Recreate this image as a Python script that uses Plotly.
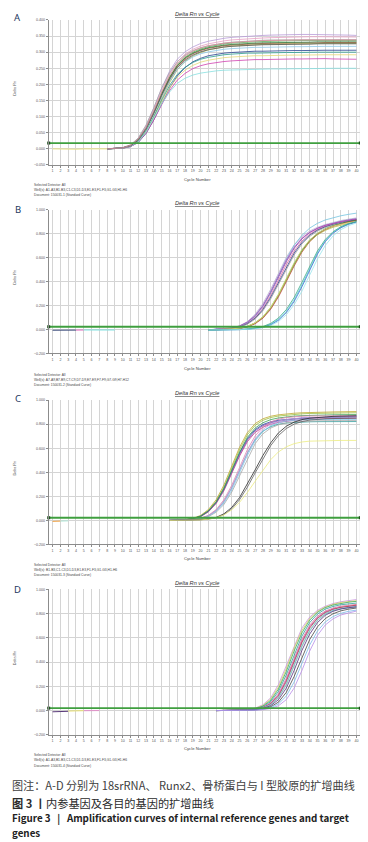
import plotly.graph_objects as go

W, H = 368, 842

# ---------------- data ----------------
CYCLES = list(range(1, 41))
CYCLE_TICKS = [str(c) for c in CYCLES]
A_TICKS = [-0.05, 0.0, 0.05, 0.10, 0.15, 0.20, 0.25, 0.30, 0.35, 0.40]
BCD_TICKS = [-0.2, 0.0, 0.2, 0.4, 0.6, 0.8, 1.0]

A_THRESHOLD = 0.018
B_THRESHOLD = 0.022
C_THRESHOLD = 0.022
D_THRESHOLD = 0.020

# Panel A (18srRNA), curves start at cycle 8
A_START = 8
A_CURVES = [
    [0.000,0.001,0.004,0.012,0.033,0.072,0.127,0.188,0.240,0.278,0.301,0.316,0.327,0.334,0.339,0.343,0.346,0.348,0.350,0.351,0.352,0.353,0.354,0.354,0.355,0.355,0.355,0.355,0.355,0.354,0.354,0.353,0.352],
    [0.000,0.001,0.003,0.011,0.031,0.068,0.121,0.180,0.232,0.270,0.294,0.309,0.319,0.326,0.331,0.335,0.338,0.340,0.342,0.343,0.344,0.345,0.346,0.346,0.347,0.347,0.348,0.348,0.348,0.348,0.348,0.347,0.347],
    [0.000,0.001,0.003,0.010,0.029,0.064,0.114,0.172,0.222,0.260,0.284,0.300,0.310,0.317,0.322,0.326,0.328,0.330,0.331,0.332,0.333,0.334,0.334,0.335,0.335,0.336,0.336,0.336,0.336,0.336,0.336,0.336,0.336],
    [0.000,0.001,0.004,0.012,0.034,0.074,0.128,0.188,0.236,0.270,0.291,0.305,0.314,0.320,0.325,0.328,0.331,0.333,0.335,0.336,0.337,0.338,0.338,0.339,0.339,0.340,0.340,0.340,0.340,0.340,0.340,0.339,0.339],
    [0.000,0.001,0.003,0.010,0.028,0.063,0.112,0.168,0.218,0.256,0.279,0.295,0.305,0.312,0.317,0.320,0.322,0.324,0.325,0.326,0.327,0.327,0.328,0.328,0.329,0.329,0.329,0.329,0.330,0.330,0.330,0.330,0.330],
    [0.000,0.000,0.002,0.008,0.023,0.054,0.100,0.155,0.205,0.245,0.271,0.288,0.299,0.307,0.312,0.316,0.319,0.321,0.322,0.323,0.324,0.325,0.325,0.326,0.326,0.326,0.327,0.327,0.327,0.327,0.327,0.327,0.327],
    [0.000,0.001,0.003,0.010,0.029,0.064,0.114,0.170,0.220,0.258,0.282,0.297,0.307,0.314,0.319,0.322,0.324,0.326,0.327,0.328,0.329,0.329,0.330,0.330,0.331,0.331,0.331,0.332,0.332,0.332,0.332,0.332,0.332],
    [0.000,0.001,0.003,0.009,0.026,0.060,0.108,0.162,0.210,0.247,0.270,0.285,0.295,0.301,0.306,0.309,0.311,0.313,0.314,0.315,0.315,0.316,0.316,0.317,0.317,0.317,0.318,0.318,0.318,0.318,0.318,0.318,0.318],
    [0.000,0.000,0.002,0.007,0.020,0.048,0.090,0.140,0.188,0.226,0.252,0.270,0.281,0.289,0.294,0.297,0.299,0.301,0.302,0.303,0.303,0.304,0.304,0.305,0.305,0.305,0.306,0.306,0.306,0.306,0.306,0.306,0.306],
    [0.000,0.001,0.002,0.008,0.024,0.055,0.099,0.150,0.196,0.231,0.253,0.268,0.278,0.284,0.289,0.292,0.294,0.296,0.297,0.297,0.298,0.298,0.299,0.299,0.299,0.300,0.300,0.300,0.300,0.300,0.300,0.300,0.300],
    [0.000,0.000,0.002,0.008,0.022,0.052,0.095,0.144,0.188,0.222,0.244,0.259,0.269,0.275,0.280,0.283,0.285,0.287,0.288,0.289,0.289,0.290,0.290,0.291,0.291,0.291,0.292,0.292,0.292,0.292,0.292,0.292,0.292],
    [0.000,0.000,0.002,0.007,0.021,0.049,0.090,0.137,0.180,0.213,0.234,0.249,0.258,0.264,0.268,0.271,0.273,0.275,0.276,0.277,0.277,0.278,0.278,0.279,0.279,0.279,0.280,0.280,0.280,0.279,0.279,0.279,0.278],
    [0.000,0.000,0.002,0.008,0.022,0.052,0.095,0.140,0.176,0.203,0.219,0.229,0.235,0.239,0.242,0.244,0.245,0.246,0.247,0.247,0.248,0.248,0.248,0.249,0.249,0.249,0.249,0.250,0.250,0.250,0.250,0.250,0.250],
    [0.000,0.001,0.003,0.009,0.027,0.061,0.110,0.165,0.214,0.252,0.275,0.291,0.301,0.308,0.313,0.316,0.318,0.320,0.321,0.322,0.323,0.323,0.324,0.324,0.325,0.325,0.325,0.326,0.326,0.326,0.326,0.326,0.326],
    [0.000,0.001,0.003,0.011,0.030,0.066,0.118,0.176,0.227,0.264,0.288,0.303,0.313,0.320,0.325,0.328,0.330,0.332,0.334,0.335,0.336,0.336,0.337,0.337,0.337,0.338,0.338,0.338,0.338,0.338,0.338,0.338,0.338],
]
A_BASE_STARTS = [1]
A_BASE = [[0.000, -0.001, -0.001, -0.001, 0.000, 0.000, 0.000, 0.000]]

# Panel B (Runx2), curves start at cycle 21
B_START = 21
B_CURVES = [
    [-0.003,0.000,0.004,0.012,0.030,0.065,0.125,0.215,0.335,0.470,0.600,0.705,0.775,0.820,0.852,0.875,0.893,0.908,0.920,0.930],
    [-0.004,-0.001,0.003,0.010,0.026,0.057,0.110,0.192,0.305,0.435,0.565,0.675,0.755,0.808,0.843,0.868,0.886,0.901,0.913,0.923],
    [-0.004,-0.002,0.002,0.009,0.023,0.051,0.100,0.176,0.284,0.410,0.540,0.652,0.737,0.795,0.834,0.861,0.880,0.895,0.907,0.917],
    [-0.004,-0.002,0.002,0.008,0.021,0.047,0.093,0.165,0.268,0.390,0.520,0.635,0.724,0.786,0.828,0.856,0.876,0.892,0.905,0.915],
    [-0.004,-0.001,0.003,0.010,0.026,0.058,0.112,0.196,0.312,0.448,0.585,0.700,0.785,0.845,0.885,0.913,0.933,0.948,0.960,0.970],
    [-0.004,-0.002,0.001,0.007,0.019,0.043,0.086,0.155,0.255,0.375,0.505,0.620,0.712,0.776,0.820,0.850,0.872,0.889,0.902,0.912],
    [-0.004,-0.001,0.003,0.011,0.028,0.060,0.116,0.200,0.316,0.448,0.577,0.684,0.760,0.810,0.844,0.868,0.885,0.899,0.910,0.920],
    [-0.005,-0.004,-0.002,0.002,0.009,0.023,0.051,0.099,0.176,0.282,0.409,0.539,0.653,0.739,0.797,0.836,0.863,0.882,0.898,0.911],
    [-0.005,-0.004,-0.002,0.002,0.010,0.025,0.055,0.105,0.184,0.292,0.420,0.550,0.662,0.745,0.801,0.839,0.865,0.884,0.899,0.910],
    [-0.005,-0.004,-0.002,0.001,0.008,0.021,0.047,0.093,0.168,0.272,0.398,0.528,0.644,0.732,0.792,0.832,0.860,0.880,0.895,0.906],
    [-0.004,-0.003,-0.001,0.003,0.010,0.024,0.053,0.101,0.178,0.284,0.410,0.538,0.650,0.734,0.790,0.826,0.852,0.871,0.885,0.896],
    [-0.003,-0.002,0.000,0.004,0.011,0.026,0.056,0.106,0.186,0.295,0.425,0.556,0.667,0.748,0.802,0.838,0.862,0.879,0.891,0.900],
    [-0.006,-0.006,-0.005,-0.004,-0.002,0.002,0.008,0.020,0.043,0.085,0.150,0.245,0.370,0.510,0.640,0.740,0.808,0.852,0.880,0.898],
    [-0.006,-0.006,-0.005,-0.004,-0.002,0.001,0.006,0.017,0.038,0.077,0.140,0.232,0.355,0.495,0.628,0.732,0.802,0.848,0.877,0.895],
    [-0.006,-0.005,-0.005,-0.003,-0.001,0.003,0.010,0.024,0.050,0.095,0.165,0.265,0.392,0.530,0.655,0.750,0.815,0.857,0.883,0.900],
    [-0.006,-0.006,-0.006,-0.005,-0.003,0.000,0.005,0.014,0.032,0.066,0.122,0.205,0.318,0.452,0.588,0.700,0.780,0.832,0.866,0.888],
]
B_BASE_STARTS = [1, 4, 5]
B_BASE = [
    [-0.007, -0.006, -0.006, -0.006],
    [-0.006, -0.005],
    [-0.005, -0.005, -0.006, -0.005, -0.005],
]

# Panel C (osteopontin), curves start at cycle 16
C_START = 16
C_CURVES = [
    [0.000,0.002,0.006,0.017,0.041,0.090,0.172,0.295,0.450,0.608,0.730,0.805,0.845,0.866,0.878,0.886,0.891,0.895,0.898,0.900,0.901,0.902,0.903,0.904,0.905],
    [0.000,0.002,0.005,0.015,0.037,0.082,0.160,0.278,0.430,0.588,0.712,0.790,0.832,0.855,0.868,0.876,0.882,0.886,0.889,0.891,0.892,0.893,0.894,0.895,0.895],
    [0.000,0.001,0.005,0.014,0.035,0.078,0.152,0.265,0.410,0.560,0.680,0.755,0.797,0.820,0.833,0.841,0.847,0.851,0.854,0.856,0.857,0.858,0.859,0.860,0.860],
    [0.000,0.001,0.004,0.012,0.031,0.071,0.141,0.248,0.388,0.535,0.655,0.732,0.775,0.800,0.815,0.825,0.832,0.837,0.841,0.844,0.846,0.847,0.848,0.849,0.850],
    [0.000,0.001,0.004,0.013,0.033,0.074,0.146,0.256,0.398,0.548,0.668,0.745,0.788,0.812,0.826,0.836,0.843,0.848,0.852,0.855,0.858,0.860,0.862,0.864,0.865],
    [0.000,0.001,0.005,0.014,0.035,0.078,0.152,0.265,0.412,0.566,0.690,0.768,0.812,0.838,0.852,0.861,0.867,0.871,0.874,0.876,0.877,0.878,0.879,0.880,0.880],
    [0.000,0.000,0.002,0.006,0.016,0.038,0.082,0.158,0.272,0.415,0.560,0.672,0.742,0.780,0.800,0.810,0.815,0.818,0.820,0.821,0.822,0.822,0.822,0.822,0.822],
    [0.000,0.000,0.002,0.007,0.018,0.042,0.090,0.172,0.292,0.440,0.588,0.702,0.775,0.818,0.842,0.855,0.862,0.866,0.868,0.869,0.870,0.870,0.870,0.870,0.870],
    [0.000,0.000,0.001,0.005,0.013,0.031,0.068,0.133,0.235,0.370,0.515,0.638,0.720,0.768,0.795,0.810,0.818,0.823,0.826,0.828,0.829,0.830,0.830,0.830,0.830],
    [0.000,0.000,0.002,0.006,0.015,0.035,0.075,0.145,0.252,0.392,0.540,0.660,0.740,0.786,0.812,0.826,0.833,0.837,0.839,0.840,0.840,0.840,0.840,0.840,0.840],
    [0.000,0.000,0.002,0.006,0.016,0.038,0.082,0.158,0.272,0.415,0.562,0.680,0.756,0.800,0.825,0.839,0.847,0.852,0.855,0.857,0.858,0.859,0.860,0.860,0.860],
    [0.000,0.000,0.000,0.002,0.006,0.014,0.025,0.055,0.108,0.190,0.300,0.420,0.540,0.645,0.728,0.783,0.817,0.838,0.850,0.857,0.862,0.865,0.867,0.869,0.870],
    [0.000,0.000,0.000,0.001,0.005,0.011,0.022,0.048,0.096,0.172,0.276,0.395,0.515,0.622,0.706,0.764,0.800,0.822,0.834,0.841,0.845,0.847,0.849,0.850,0.850],
    [0.000,0.000,0.000,0.001,0.004,0.010,0.022,0.046,0.088,0.150,0.232,0.325,0.420,0.505,0.570,0.612,0.638,0.652,0.659,0.662,0.664,0.665,0.665,0.665,0.665],
]
C_BASE_STARTS = [1, 2]
C_BASE = [
    [-0.008, -0.006],
    [-0.006, -0.004],
]

# Panel D (type I collagen), curves start at cycle 22
D_START = 22
D_CURVES = [
    [0.000,0.000,0.001,0.003,0.008,0.020,0.048,0.105,0.215,0.370,0.540,0.680,0.770,0.826,0.860,0.882,0.897,0.907,0.915],
    [0.000,0.000,0.001,0.003,0.007,0.017,0.042,0.094,0.195,0.345,0.515,0.660,0.758,0.818,0.853,0.876,0.891,0.899,0.905],
    [0.000,0.000,0.001,0.002,0.006,0.015,0.037,0.084,0.178,0.322,0.490,0.640,0.745,0.810,0.848,0.870,0.884,0.893,0.900],
    [0.000,0.000,0.000,0.002,0.005,0.013,0.032,0.073,0.158,0.294,0.460,0.613,0.725,0.795,0.836,0.858,0.872,0.880,0.886],
    [0.000,0.000,0.000,0.002,0.004,0.011,0.027,0.063,0.138,0.266,0.430,0.587,0.703,0.778,0.820,0.845,0.860,0.869,0.875],
    [0.000,0.000,0.000,0.001,0.004,0.010,0.025,0.058,0.128,0.250,0.412,0.570,0.690,0.766,0.812,0.838,0.852,0.860,0.865],
    [0.000,0.000,0.000,0.001,0.004,0.009,0.023,0.054,0.120,0.238,0.398,0.558,0.680,0.760,0.806,0.834,0.850,0.861,0.869],
    [0.000,0.000,0.000,0.001,0.003,0.008,0.020,0.047,0.105,0.210,0.362,0.525,0.655,0.742,0.795,0.825,0.840,0.848,0.853],
    [0.000,0.000,0.000,0.001,0.003,0.008,0.021,0.050,0.110,0.220,0.372,0.535,0.662,0.748,0.798,0.826,0.842,0.852,0.858],
    [0.000,0.000,0.000,0.001,0.003,0.007,0.017,0.040,0.090,0.185,0.330,0.495,0.630,0.725,0.785,0.818,0.837,0.848,0.855],
    [0.000,0.000,0.000,0.001,0.002,0.005,0.013,0.031,0.070,0.150,0.280,0.440,0.585,0.690,0.758,0.798,0.822,0.836,0.845],
    [0.000,0.000,0.000,0.000,0.002,0.004,0.010,0.024,0.055,0.120,0.235,0.390,0.540,0.655,0.730,0.775,0.802,0.818,0.828],
    [0.000,0.000,0.000,0.000,0.001,0.003,0.007,0.017,0.040,0.090,0.185,0.330,0.490,0.620,0.705,0.756,0.788,0.807,0.820],
]
D_BASE_STARTS = [1, 3, 5]
D_BASE = [
    [-0.010, -0.008, -0.006],
    [-0.004, -0.002, -0.001],
    [-0.001, 0.000, 0.000],
]

FOOTERS = [
    ["Selected Detector: All", "Well(s): A1-A3,B1-B3,C1-C3,D1-D3,E1-E3,F1-F3,G1-G3,H1-H6", "Document: 150031-1 (Standard Curve)"],
    ["Selected Detector: All", "Well(s): A7-A9,B7-B9,C7-C9,D7-D9,E7-E9,F7-F9,G7-G9,H7-H12", "Document: 150031-2 (Standard Curve)"],
    ["Selected Detector: All", "Well(s): B1-B3,C1-C3,D1-D3,E1-E3,F1-F3,G1-G3,H1-H6", "Document: 150031-3 (Standard Curve)"],
    ["Selected Detector: All", "Well(s): A1-A3,B1-B3,C1-C3,D1-D3,E1-E3,F1-F3,G1-G3,H1-H6", "Document: 150031-4 (Standard Curve)"],
]

# ---------------- styles ----------------
A_COLORS = ["#b89ad8", "#e8a0c4", "#55b055", "#a8a8a8", "#b0503a", "#a8b050", "#2d7a3a",
            "#8cc8e8", "#24408f", "#2a9d8f", "#e6d878", "#d040b0", "#86e0e0", "#555555", "#d88a9a"]
A_BASE_COLORS = ["#e8e08a"]
B_COLORS = ["#b8b0d0", "#7a50b4", "#e0649c", "#233c8c", "#74c4e0", "#a0a0a0", "#b04ab8",
            "#222222", "#2f9e4f", "#c84444", "#b4c24e", "#e8e080", "#5cd0d8", "#3a6fd0", "#3aaa88", "#9ae4ee"]
B_BASE_COLORS = ["#3a4a7a", "#e070c0", "#7fe0e0"]
C_COLORS = ["#c0a830", "#9cc03c", "#2444a0", "#c0308c", "#7050b0", "#3aa055", "#30a0a0",
            "#e080b0", "#a8a8a8", "#80c8e8", "#c0a0e0", "#2a2a2a", "#606060", "#ecec80"]
C_BASE_COLORS = ["#f0a040", "#b0e8d8"]
D_COLORS = ["#c894e0", "#d8d060", "#3aa85a", "#2a9d9d", "#e0709a", "#c040a0", "#b04848",
            "#a0a0a0", "#70d0d8", "#503080", "#454545", "#78b8e8", "#b78ce8"]
D_BASE_COLORS = ["#5a3a7a", "#e8e070", "#e090c8"]

PLOT_X0, PLOT_X1 = 40.7, 352.3
CENTER_X = 189
PANELS = [
    dict(letter="A", curves=A_CURVES, start=A_START, colors=A_COLORS, base=A_BASE, base_starts=A_BASE_STARTS,
         base_colors=A_BASE_COLORS, thr=A_THRESHOLD, ticks=A_TICKS, yr=[-0.05, 0.40], top=10, bot=155.7,
         title_y=4.5, letter_y=8, cyc_y=170, foot_y=[176, 180.7, 186]),
    dict(letter="B", curves=B_CURVES, start=B_START, colors=B_COLORS, base=B_BASE, base_starts=B_BASE_STARTS,
         base_colors=B_BASE_COLORS, thr=B_THRESHOLD, ticks=BCD_TICKS, yr=[-0.2, 1.0], top=200.5, bot=345,
         title_y=194, letter_y=200.7, cyc_y=360, foot_y=[366.7, 371.7, 377]),
    dict(letter="C", curves=C_CURVES, start=C_START, colors=C_COLORS, base=C_BASE, base_starts=C_BASE_STARTS,
         base_colors=C_BASE_COLORS, thr=C_THRESHOLD, ticks=BCD_TICKS, yr=[-0.2, 1.0], top=392, bot=537,
         title_y=385.3, letter_y=390, cyc_y=551, foot_y=[558, 562.7, 567.7]),
    dict(letter="D", curves=D_CURVES, start=D_START, colors=D_COLORS, base=D_BASE, base_starts=D_BASE_STARTS,
         base_colors=D_BASE_COLORS, thr=D_THRESHOLD, ticks=BCD_TICKS, yr=[-0.2, 1.0], top=582, bot=728.3,
         title_y=576, letter_y=582.7, cyc_y=742, foot_y=[749, 754, 759.3]),
]

FONT = "Liberation Sans"
GRID = "#d4d4d4"
AXIS = "#8c8c8c"


def px(x):
    return x / W


def py(y):
    return 1 - y / H


fig = go.Figure()
annotations = []
shapes = []

for i, p in enumerate(PANELS):
    n = "" if i == 0 else str(i + 1)
    xa, ya = "x" + n, "y" + n
    for s, vals, col in zip(p["base_starts"], p["base"], p["base_colors"]):
        fig.add_trace(go.Scatter(x=list(range(s, s + len(vals))), y=vals, mode="lines",
                                 line=dict(color=col, width=1), xaxis=xa, yaxis=ya,
                                 showlegend=False, hoverinfo="skip"))
    for vals, col in zip(p["curves"], p["colors"]):
        fig.add_trace(go.Scatter(x=list(range(p["start"], p["start"] + len(vals))), y=vals, mode="lines",
                                 line=dict(color=col, width=0.8), xaxis=xa, yaxis=ya,
                                 showlegend=False, hoverinfo="skip"))
    fig.add_trace(go.Scatter(x=[0.5, 40.5], y=[p["thr"], p["thr"]], mode="lines+markers",
                             line=dict(color="#3f9f3f", width=1.8),
                             marker=dict(symbol="square", size=3, color="#1e4e1e"),
                             cliponaxis=False, xaxis=xa, yaxis=ya, showlegend=False, hoverinfo="skip"))

    dom_y = [py(p["bot"]), py(p["top"])]
    fig.layout["xaxis" + n] = dict(
        domain=[px(PLOT_X0), px(PLOT_X1)], anchor=ya, range=[0.5, 40.5],
        tickmode="array", tickvals=CYCLES, ticktext=CYCLE_TICKS,
        showgrid=True, gridcolor=GRID, gridwidth=1, zeroline=False,
        showline=True, linecolor=AXIS, linewidth=1,
        ticks="outside", ticklen=2, tickcolor=AXIS,
        tickfont=dict(family=FONT, size=3.6, color="#555555"), tickangle=0)
    fig.layout["yaxis" + n] = dict(
        domain=dom_y, anchor=xa, range=p["yr"], tickmode="array", tickvals=p["ticks"],
        tickformat=".3f", showgrid=True, gridcolor=GRID, gridwidth=1, zeroline=False,
        showline=True, linecolor=AXIS, linewidth=1,
        ticks="outside", ticklen=2, tickcolor=AXIS,
        tickfont=dict(family=FONT, size=3.6, color="#555555"))

    # right border
    shapes.append(dict(type="line", xref=xa + " domain", yref=ya + " domain", x0=1, x1=1, y0=0, y1=1,
                       line=dict(color=GRID, width=1), layer="below"))

    annotations.append(dict(text="<i><u>Delta Rn vs Cycle</u></i>", x=px(CENTER_X), y=py(p["title_y"]),
                            xref="paper", yref="paper", xanchor="center", yanchor="middle",
                            showarrow=False, font=dict(family=FONT, size=5.6, color="#333333")))
    annotations.append(dict(text=p["letter"], x=px(9.5), y=py(p["letter_y"]), xref="paper", yref="paper",
                            xanchor="center", yanchor="middle", showarrow=False,
                            font=dict(family="Noto Sans", size=9.5, color="#24385e")))
    annotations.append(dict(text="Delta Rn", x=px(7.3), y=py((p["top"] + p["bot"]) / 2 - 4), xref="paper",
                            yref="paper", xanchor="center", yanchor="middle", textangle=-90,
                            showarrow=False, font=dict(family=FONT, size=3.8, color="#555555")))
    annotations.append(dict(text="Cycle Number", x=px(CENTER_X), y=py(p["cyc_y"]), xref="paper",
                            yref="paper", xanchor="center", yanchor="middle", showarrow=False,
                            font=dict(family=FONT, size=4.2, color="#444444")))
    for txt, fy in zip(FOOTERS[i], p["foot_y"]):
        annotations.append(dict(text=txt, x=px(24), y=py(fy), xref="paper", yref="paper",
                                xanchor="left", yanchor="middle", showarrow=False,
                                font=dict(family=FONT, size=3.3, color="#444444")))

CJK = "Noto Sans CJK SC"
NB = "\u00a0"
captions = [
    ("图注：A-D 分别为 18srRNA、 Runx2、骨桥蛋白与 I 型胶原的扩增曲线", 779, "#404040", 11.1),
    ("<b>图 3</b> <b>丨</b>内参基因及各目的基因的扩增曲线", 796.7, "#2a2a2a", 11.2),
    ("<b>Figure 3" + NB * 3 + "|" + NB * 3 + "Amplification curves of internal reference genes and target</b>",
     811.7, "#222222", 9.8),
    ("<b>genes</b>", 826.7, "#222222", 9.8),
]
for txt, y, col, sz in captions:
    annotations.append(dict(text=txt, x=px(2), y=py(y), xref="paper", yref="paper", xanchor="left",
                            yanchor="middle", showarrow=False, font=dict(family=CJK, size=sz, color=col)))

fig.update_layout(width=W, height=H, margin=dict(l=0, r=0, t=0, b=0),
                  paper_bgcolor="white", plot_bgcolor="white",
                  annotations=annotations, shapes=shapes, showlegend=False)

fig.write_html("out.html")
